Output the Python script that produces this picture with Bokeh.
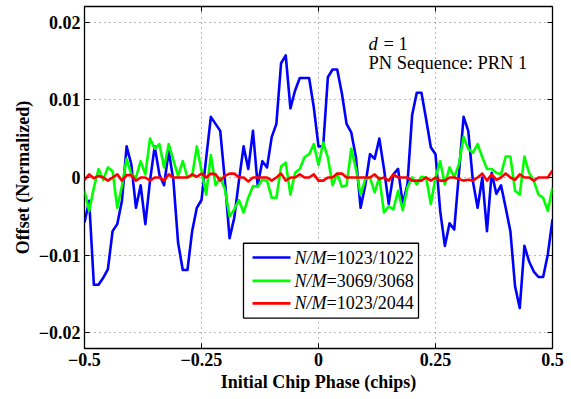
import numpy as np
from bokeh.plotting import figure
from bokeh.models import (Range1d, FixedTicker, LinearAxis, Label, BoxAnnotation, Arrow)
from bokeh.embed import file_html
from bokeh.resources import INLINE

# ---------------- data ----------------
phase = [round(-0.5 + 0.01 * i, 2) for i in range(101)]

blue_1023_1022 = [
    -0.0058, -0.0030, -0.0138, -0.0138, -0.0129, -0.0118, -0.0069, -0.0060, -0.0030, 0.0040,
    0.0017, -0.0039, -0.0010, -0.0060, -0.0004, 0.0040, 0.0004, -0.0010, 0.0034, -0.0004,
    -0.0084, -0.0119, -0.0119, -0.0069, -0.0039, -0.0029, 0.0025, 0.0078, 0.0069, 0.0060,
    -0.0004, -0.0078, -0.0052, -0.0004, 0.0040, 0.0011, 0.0060, -0.0010, 0.0021, 0.0013,
    0.0052, 0.0069, 0.0147, 0.0157, 0.0089, 0.0112, 0.0128, 0.0128, 0.0128, 0.0090,
    0.0040, 0.0040, 0.0129, 0.0139, 0.0139, 0.0108, 0.0069, 0.0058, 0.0026, -0.0039,
    -0.0010, 0.0030, 0.0024, 0.0050, 0.0011, -0.0034, 0.0004, 0.0011, -0.0034, -0.0009,
    0.0080, 0.0109, 0.0109, 0.0075, 0.0039, 0.0030, -0.0043, -0.0088, -0.0059, -0.0067,
    0.0005, 0.0078, 0.0060, -0.0005, -0.0039, 0.0000, -0.0069, 0.0006, -0.0021, -0.0010,
    -0.0039, -0.0069, -0.0140, -0.0168, -0.0088, -0.0108, -0.0121, -0.0128, -0.0128, -0.0099,
    -0.0054,
]

green_3069_3068 = [
    -0.0017, -0.0043, -0.0013, 0.0011, -0.0003, 0.0013, 0.0008, -0.0039, -0.0011, 0.0024,
    0.0004, 0.0000, 0.0021, 0.0004, 0.0050, 0.0037, 0.0043, 0.0013, 0.0043, 0.0022,
    0.0002, 0.0021, 0.0000, 0.0002, 0.0040, 0.0009, -0.0022, 0.0029, -0.0010, 0.0000,
    -0.0015, -0.0050, -0.0041, -0.0029, -0.0045, -0.0026, -0.0011, -0.0012, -0.0003, -0.0004,
    -0.0026, -0.0026, 0.0014, 0.0019, -0.0022, 0.0006, 0.0011, 0.0026, 0.0030, 0.0043,
    0.0016, 0.0045, 0.0026, -0.0010, 0.0005, -0.0012, -0.0010, 0.0037, 0.0011, -0.0022,
    -0.0002, 0.0000, -0.0019, 0.0000, -0.0045, -0.0037, -0.0041, -0.0017, -0.0042, -0.0013,
    0.0000, -0.0009, 0.0001, 0.0000, -0.0034, 0.0000, 0.0021, -0.0009, 0.0013, 0.0000,
    0.0017, 0.0052, 0.0037, 0.0032, 0.0043, 0.0026, 0.0011, 0.0011, 0.0006, 0.0004,
    0.0027, 0.0027, -0.0017, -0.0022, 0.0027, 0.0006, -0.0004, -0.0022, -0.0026, -0.0043,
    -0.0013,
]

red_1023_2044 = [
    -0.0003, 0.0004, -0.0001, 0.0002, 0.0000, -0.0004, 0.0000, 0.0004, -0.0004, 0.0003,
    0.0003, -0.0004, 0.0000, 0.0000, -0.0004, 0.0000, 0.0000, -0.0004, 0.0004, 0.0000,
    0.0000, 0.0000, 0.0000, 0.0004, 0.0001, 0.0005, 0.0000, 0.0005, 0.0004, -0.0004,
    0.0002, 0.0005, 0.0005, 0.0000, 0.0000, -0.0005, 0.0000, 0.0000, 0.0000, 0.0000,
    -0.0004, 0.0000, 0.0005, -0.0004, 0.0000, 0.0000, 0.0004, 0.0000, 0.0000, 0.0004,
    -0.0004, -0.0004, 0.0000, 0.0000, 0.0005, 0.0005, 0.0000, 0.0000, 0.0000, 0.0000,
    0.0000, 0.0000, 0.0004, -0.0002, 0.0000, -0.0004, 0.0004, 0.0000, 0.0000, 0.0000,
    -0.0004, -0.0004, -0.0004, 0.0000, -0.0004, 0.0000, -0.0004, -0.0004, 0.0000, 0.0000,
    -0.0002, -0.0004, -0.0003, -0.0004, 0.0000, 0.0005, -0.0004, 0.0004, -0.0003, 0.0000,
    0.0005, 0.0000, -0.0003, 0.0004, 0.0000, 0.0000, -0.0004, 0.0000, 0.0000, 0.0000,
    0.0009,
]

x_ticks = [-0.5, -0.25, 0, 0.25, 0.5]
x_tick_labels = ["\u22120.5", "\u22120.25", "0", "0.25", "0.5"]
y_ticks = [-0.02, -0.01, 0, 0.01, 0.02]
y_tick_labels = ["\u22120.02", "\u22120.01", "0", "0.01", "0.02"]

series_names = ["1023/1022", "3069/3068", "1023/2044"]
series_colors = ["#0000FF", "#00FF00", "#FF0000"]

FONT = "Liberation Serif"

# ---------------- figure ----------------
p = figure(width=571, height=399, output_backend="svg", toolbar_location=None,
           x_range=Range1d(-0.5, 0.5), y_range=Range1d(-0.022, 0.022),
           min_border_left=84, min_border_right=19, min_border_top=6, min_border_bottom=51)
p.background_fill_color = "white"
p.border_fill_color = "white"
p.outline_line_color = "black"
p.outline_line_width = 1.3
p.outline_line_alpha = 1.0

for ser, col in zip([blue_1023_1022, green_3069_3068, red_1023_2044], series_colors):
    p.line(phase, ser, line_color=col, line_width=2.6, line_join="round")

# axes
p.xaxis.ticker = FixedTicker(ticks=x_ticks)
p.yaxis.ticker = FixedTicker(ticks=y_ticks)
p.xaxis.major_label_overrides = dict(zip(x_ticks, x_tick_labels))
p.yaxis.major_label_overrides = dict(zip(y_ticks, y_tick_labels))
p.xaxis.axis_label = "Initial Chip Phase (chips)"
p.yaxis.axis_label = "Offset (Normalized)"
for ax in [p.xaxis[0], p.yaxis[0]]:
    ax.axis_line_color = None
    ax.major_tick_in = 5
    ax.major_tick_out = 0
    ax.major_tick_line_color = "black"
    ax.minor_tick_line_color = None
    ax.major_label_text_font = FONT
    ax.major_label_text_font_style = "bold"
    ax.major_label_text_font_size = "18px"
    ax.major_label_text_color = "black"
    ax.axis_label_text_font = FONT
    ax.axis_label_text_font_style = "bold"
    ax.axis_label_text_font_size = "18px"
    ax.axis_label_text_color = "black"
    ax.major_label_standoff = 4
    ax.axis_label_standoff = 3

# top and right ticks (no labels)
for loc, ticks in [("above", x_ticks), ("right", y_ticks)]:
    ax = LinearAxis(ticker=FixedTicker(ticks=ticks),
                    major_label_overrides={t: "" for t in ticks},
                    major_label_text_font_size="1px",
                    major_label_standoff=0, axis_line_color=None, major_tick_in=5,
                    major_tick_out=0, minor_tick_line_color=None,
                    major_tick_line_color="black")
    p.add_layout(ax, loc)

# grid
for g in [p.xgrid[0], p.ygrid[0]]:
    g.grid_line_color = "#707070"
    g.grid_line_dash = "1 4"
    g.grid_line_width = 1

# annotation text (upper right)
p.add_layout(Label(x=0.1068, y=0.01718, text="d", text_font=FONT, text_font_style="italic",
                   text_font_size="18.5px", text_baseline="alphabetic", text_color="black"))
p.add_layout(Label(x=0.1390, y=0.01718, text="= 1", text_font=FONT,
                   text_font_size="18.5px", text_baseline="alphabetic", text_color="black"))
p.add_layout(Label(x=0.1068, y=0.01474, text="PN Sequence: PRN 1", text_font=FONT,
                   text_font_size="18.5px", text_baseline="alphabetic", text_color="black"))

# legend (manual, to allow italic N/M)
LEG_LEFT, LEG_RIGHT, LEG_TOP, LEG_BOTTOM = -0.1603, 0.2137, -0.00846, -0.01808
LEG_ROWS_Y = [-0.01030, -0.01330, -0.01620]
LEG_LINE_X0, LEG_LINE_X1 = -0.141, -0.0598
LEG_TEXT_X, LEG_EQ_X = -0.0513, 0.0171

p.add_layout(BoxAnnotation(left=LEG_LEFT, right=LEG_RIGHT, top=LEG_TOP, bottom=LEG_BOTTOM,
                           fill_color="white", fill_alpha=1.0, line_color="black",
                           line_width=1.3, line_alpha=1.0))
for name, col, yy in zip(series_names, series_colors, LEG_ROWS_Y):
    p.add_layout(Arrow(x_start=LEG_LINE_X0, y_start=yy, x_end=LEG_LINE_X1, y_end=yy,
                       end=None, line_color=col, line_width=2.6))
    p.add_layout(Label(x=LEG_TEXT_X, y=yy, text="N/M", text_font=FONT,
                       text_font_style="italic", text_font_size="18px",
                       text_baseline="middle", text_color="black"))
    p.add_layout(Label(x=LEG_EQ_X, y=yy, text="=" + name, text_font=FONT,
                       text_font_size="18px", text_baseline="middle", text_color="black"))

open("out.html", "w").write(file_html(p, INLINE))
